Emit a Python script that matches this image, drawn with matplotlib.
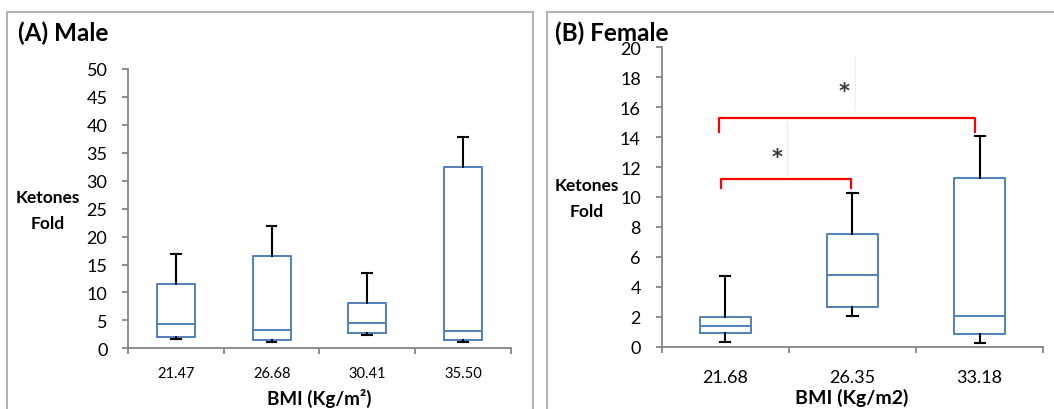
import matplotlib
matplotlib.use("Agg")
import matplotlib.pyplot as plt
from matplotlib.patches import Rectangle

plt.rcParams['font.family'] = ['Lato', 'DejaVu Sans']

# male panel: lower whisker, Q1, median, Q3, upper whisker
male_bmi = ["21.47", "26.68", "30.41", "35.50"]
male_low = [1.6, 1.2, 2.45, 1.1]
male_q1 = [2.0, 1.5, 2.8, 1.4]
male_med = [4.3, 3.2, 4.5, 3.1]
male_q3 = [11.5, 16.5, 8.1, 32.4]
male_high = [16.8, 21.9, 13.4, 37.9]

# female panel
female_bmi = ["21.68", "26.35", "33.18"]
female_low = [0.29, 2.03, 0.25]
female_q1 = [0.89, 2.63, 0.83]
female_med = [1.40, 4.77, 2.05]
female_q3 = [1.96, 7.5, 11.3]
female_high = [4.72, 10.25, 14.07]

# significance brackets (female): start group, end group, bracket height
sig_from = [0.966, 0.953]
sig_to = [1.988, 2.963]
sig_top = [11.18, 15.26]
sig_leg = [10.58, 14.36]
star_x = [1.409, 1.936]
star_y = [13.0, 17.4]

BLUE = '#4F81BD'
GREY = '#868686'


def make_stats(lo, q1, med, q3, hi):
    return [dict(whislo=a, q1=b, med=c, q3=d, whishi=e, fliers=[])
            for a, b, c, d, e in zip(lo, q1, med, q3, hi)]


def style_axes(ax, labels, xfs, xpad):
    n = len(labels)
    for s in ['top', 'right']:
        ax.spines[s].set_visible(False)
    for s in ['left', 'bottom']:
        ax.spines[s].set_color(GREY)
        ax.spines[s].set_linewidth(1.3)
    ax.set_xlim(0.5, n + 0.5)
    ax.set_xticks([i + 0.5 for i in range(n + 1)])
    ax.set_xticklabels([])
    ax.set_xticks(range(1, n + 1), minor=True)
    ax.set_xticklabels(labels, minor=True, fontsize=xfs)
    ax.tick_params(axis='x', which='major', length=4.5, color=GREY, width=1.3)
    ax.tick_params(axis='x', which='minor', length=0, pad=xpad)
    ax.tick_params(axis='y', length=4.5, color=GREY, width=1.3, labelsize=13, pad=10.5)


def draw_box(ax, stats, pos, capw):
    ax.bxp(stats, positions=pos, widths=0.4, showfliers=False, capwidths=capw,
           boxprops=dict(color=BLUE, linewidth=1.4),
           medianprops=dict(color=BLUE, linewidth=1.4),
           whiskerprops=dict(color='black', linewidth=1.5),
           capprops=dict(color='black', linewidth=1.5), manage_ticks=False)


fig = plt.figure(figsize=(10.54, 4.1), dpi=100)

# panel frames
top = 1 - 12.7 / 410
fig.patches.append(Rectangle((7.2 / 1054, -0.1), (533 - 7.2) / 1054, top + 0.1,
                             transform=fig.transFigure, fill=False, ec='#A6A6A6', lw=1.2))
fig.patches.append(Rectangle((547.3 / 1054, -0.1), 0.5, top + 0.1,
                             transform=fig.transFigure, fill=False, ec='#A6A6A6', lw=1.2))

# male
ax1 = fig.add_axes([0.1217, 0.148, 0.3628, 0.6813])
draw_box(ax1, make_stats(male_low, male_q1, male_med, male_q3, male_high),
         range(1, len(male_bmi) + 1), 0.1)
style_axes(ax1, male_bmi, 10.5, 13)
ax1.set_ylim(0, 50)
ax1.set_yticks(range(0, 51, 5))
fig.text(17.5 / 1054, 1 - 33 / 410, "(A) Male", fontsize=17.5, fontweight='bold', va='center')
fig.text(48 / 1054, 1 - 211 / 410, "Ketones\nFold", fontsize=12.5, fontweight='bold',
         ha='center', va='center', linespacing=1.75)
fig.text(319.5 / 1054, 1 - 398 / 410, "BMI (Kg/m²)", fontsize=13.6, fontweight='bold',
         ha='center', va='center')

# female
ax2 = fig.add_axes([0.6278, 0.152, 0.3620, 0.7302])
draw_box(ax2, make_stats(female_low, female_q1, female_med, female_q3, female_high),
         range(1, len(female_bmi) + 1), 0.08)
style_axes(ax2, female_bmi, 13, 16)
ax2.set_ylim(0, 20)
ax2.set_yticks(range(0, 21, 2))
for x0, x1, yt, yl in zip(sig_from, sig_to, sig_top, sig_leg):
    ax2.plot([x0, x0, x1, x1], [yl, yt, yt, yl], color='red', lw=1.6,
             solid_joinstyle='round', clip_on=False)
for sx, sy in zip(star_x, star_y):
    ax2.text(sx, sy - 0.35, "*", fontsize=15, fontweight='bold', color='#3A3A3A',
             ha='center', va='center', family='DejaVu Sans')
    ax2.plot([sx + 0.08, sx + 0.08], [sy - 1.5, sy + 2.0], color='#EEEEEE', lw=1)
fig.text(555 / 1054, 1 - 33 / 410, "(B) Female", fontsize=17.5, fontweight='bold', va='center')
fig.text(587 / 1054, 1 - 199 / 410, "Ketones\nFold", fontsize=12.5, fontweight='bold',
         ha='center', va='center', linespacing=1.75)
fig.text(852 / 1054, 1 - 398 / 410, "BMI (Kg/m2)", fontsize=14, fontweight='bold',
         ha='center', va='center')

fig.savefig("out.png", dpi=100)
